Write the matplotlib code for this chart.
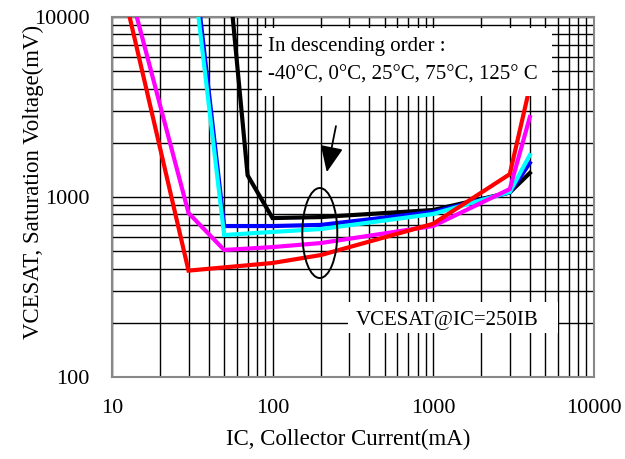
import matplotlib
matplotlib.use('Agg')
import matplotlib.pyplot as plt
from matplotlib.patches import Ellipse, Rectangle

plt.rcParams['font.family'] = ['Liberation Serif', 'DejaVu Serif']

# collector current (mA) / saturation voltage (mV)
ic_black = [56.5, 70, 100, 200, 1000, 3000, 4000]
v_black = [10000, 1320, 764, 774, 847, 1060, 1360]

ic_blue = [35.5, 50, 100, 200, 1000, 3000, 4000]
v_blue = [10000, 690, 690, 700, 826, 1060, 1546]

ic_cyan = [34.6, 50, 100, 200, 1000, 3000, 4000]
v_cyan = [10000, 615, 640, 664, 805, 1066, 1710]

ic_magenta = [14.3, 30, 50, 100, 200, 1000, 3000, 4000]
v_magenta = [10000, 815, 508, 527, 555, 690, 1107, 2780]

ic_red = [12.9, 30, 100, 200, 1000, 3000, 4000]
v_red = [10000, 390, 430, 476, 710, 1340, 4100]

series = [
    (ic_black, v_black, 'black'),
    (ic_blue, v_blue, '#0000ff'),
    (ic_cyan, v_cyan, '#00ffff'),
    (ic_magenta, v_magenta, '#ff00ff'),
    (ic_red, v_red, '#ff0000'),
]

fig = plt.figure(figsize=(6.25, 4.59), dpi=100)
ax = fig.add_axes([0.179, 0.1786, 0.771, 0.7843])

for x, y, c in series:
    ax.plot(x, y, color=c, lw=3.0, zorder=3, solid_joinstyle='miter')

ax.set_xscale('log'); ax.set_yscale('log')
ax.set_xlim(10, 10000); ax.set_ylim(100, 10000)
ax.grid(True, which='both', color='black', lw=1.0, zorder=1)
ax.set_axisbelow(True)
ax.tick_params(which='both', length=0, labelsize=16)
ax.tick_params(axis='x', pad=16)
ax.tick_params(axis='y', pad=16)
ax.set_xticks([10, 100, 1000, 10000])
ax.set_xticklabels(['10', '100', '1000', '10000'])
ax.set_yticks([100, 1000, 10000])
ax.set_yticklabels(['100', '1000', '10000'])
ax.yaxis.set_minor_formatter(plt.NullFormatter())
ax.xaxis.set_minor_formatter(plt.NullFormatter())
for s in ax.spines.values():
    s.set_color('#888888'); s.set_linewidth(1.5)

ax.set_xlabel('IC, Collector Current(mA)', fontsize=16.5)
ax.xaxis.set_label_coords(0.49, -0.145)
ax.set_ylabel('VCESAT, Saturation Voltage(mV)', fontsize=16.5)
ax.yaxis.set_label_coords(-0.14, 0.542)

# notes on white patches
ax.add_patch(Rectangle((0.311, 0.781), 0.602, 0.189, transform=ax.transAxes,
                       facecolor='white', edgecolor='none', zorder=4))
ax.text(0.324, 0.919, 'In descending order :', transform=ax.transAxes,
        fontsize=15, va='center', ha='left', zorder=5)
ax.text(0.324, 0.839, '-40°C, 0°C, 25°C, 75°C, 125° C', transform=ax.transAxes,
        fontsize=15, va='center', ha='left', zorder=5)

ax.add_patch(Rectangle((0.490, 0.122), 0.436, 0.086, transform=ax.transAxes,
                       facecolor='white', edgecolor='none', zorder=4))
ax.text(0.506, 0.156, 'VCESAT@IC=250IB', transform=ax.transAxes,
        fontsize=15, va='center', ha='left', zorder=5)

ax.add_patch(Ellipse((0.4315, 0.40), 0.0726, 0.25, transform=ax.transAxes,
                     facecolor='none', edgecolor='black', lw=1.4, zorder=5))
ax.annotate('', xy=(0.446, 0.569), xytext=(0.465, 0.697),
            xycoords='axes fraction', textcoords='axes fraction',
            arrowprops=dict(arrowstyle='-|>,head_length=0.8,head_width=0.35',
                            mutation_scale=20, color='black', lw=1.3,
                            shrinkA=0, shrinkB=0), zorder=5)

fig.savefig('out.png', dpi=100)
